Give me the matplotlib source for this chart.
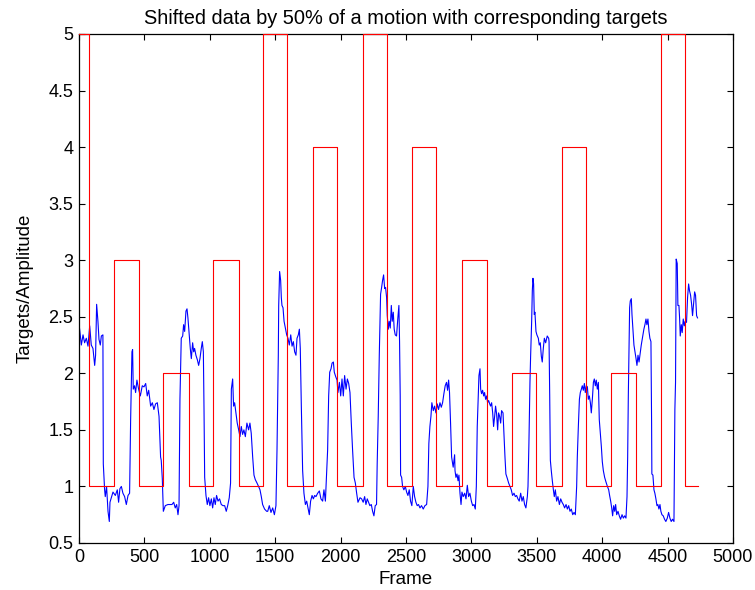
import matplotlib
matplotlib.use("Agg")
import matplotlib.pyplot as plt

# target levels (step signal, value holds until the next frame)
target_frames = [0, 80, 265, 461, 645, 841, 1027, 1226, 1407, 1593, 1786, 1975,
                 2169, 2352, 2546, 2732, 2928, 3117, 3308, 3496, 3690, 3876,
                 4070, 4256, 4452, 4635, 4730]
target_levels = [5, 1, 3, 1, 2, 1, 3, 1, 5, 1, 4, 1,
                 5, 1, 4, 1, 3, 1, 2, 1, 4, 1,
                 2, 1, 5, 1, 1]

# shifted motion amplitude
frames = [0, 5, 18, 31, 43, 56, 69, 82, 94, 107, 120, 127, 135, 145, 153, 163, 171, 183,
          186, 196, 201, 211, 222, 232, 237, 247, 260, 278, 293, 303, 313, 324, 336, 349,
          362, 375, 387, 395, 405, 410, 415, 425, 433, 443, 456, 469, 484, 497, 510, 522,
          533, 548, 561, 573, 586, 599, 612, 624, 629, 637, 645, 660, 680, 706,
          711, 724, 736, 747, 757, 765, 772, 782, 793, 800, 808, 818, 826, 833, 843, 851,
          859, 869, 877, 884, 894, 905, 915, 925, 935, 943, 951, 956, 961, 971, 981, 991,
          1001, 1012, 1022, 1032, 1042, 1052, 1063, 1075, 1088, 1101, 1114, 1126, 1137,
          1149, 1159, 1165, 1175, 1182, 1190, 1200, 1210, 1221, 1231, 1241, 1251, 1261,
          1272, 1284, 1297, 1307, 1317, 1328, 1338, 1348, 1361, 1373, 1384, 1394, 1404,
          1419, 1435,
          1443, 1455, 1468, 1481, 1494, 1506, 1514, 1524, 1527, 1534, 1542, 1547, 1552,
          1560, 1568, 1578, 1588, 1598, 1608, 1619, 1629, 1639, 1649, 1659, 1667, 1677,
          1685, 1692, 1700, 1710, 1720, 1731, 1741, 1751, 1761, 1771, 1782, 1792, 1802,
          1812, 1825, 1838, 1850, 1863, 1873, 1884, 1894, 1901, 1909, 1917, 1927, 1935,
          1945, 1952, 1963, 1973, 1980, 1991, 2001, 2011, 2021, 2031, 2042, 2052, 2062,
          2072, 2082, 2092, 2103, 2113, 2123, 2133, 2149,
          2161, 2173, 2184, 2194, 2204, 2214, 2224, 2235, 2245, 2255, 2265, 2275, 2280,
          2288, 2296, 2306, 2314, 2321, 2329, 2337, 2344, 2352, 2357, 2365, 2372, 2380,
          2388, 2395, 2403, 2410, 2418, 2428, 2438, 2446, 2451, 2456, 2459, 2467, 2474,
          2484, 2495, 2505, 2515, 2525, 2535, 2545, 2556, 2566, 2576, 2586, 2596, 2607,
          2619, 2632, 2645, 2658, 2668, 2675, 2683, 2691, 2698, 2709, 2719, 2729, 2739,
          2749, 2760, 2770, 2780, 2790, 2800, 2810, 2818, 2826, 2833, 2841, 2849, 2861,
          2872,
          2875, 2882, 2890, 2898, 2905, 2913, 2921, 2928, 2938, 2949, 2959, 2969, 2979,
          2989, 3000, 3010, 3020, 3030, 3038, 3045, 3053, 3058, 3066, 3071, 3078, 3086,
          3094, 3101, 3109, 3117, 3124, 3132, 3140, 3147, 3155, 3163, 3170, 3178, 3185,
          3193, 3201, 3208, 3216, 3224, 3231, 3242, 3249, 3257, 3264, 3275, 3285, 3295,
          3305, 3315, 3326, 3336, 3346, 3356, 3366, 3377, 3387, 3397, 3407, 3417, 3428,
          3433, 3440, 3448, 3453, 3461, 3466, 3471, 3476, 3481, 3486, 3494, 3501, 3512,
          3519, 3527, 3535, 3542, 3550, 3558, 3568, 3580, 3591,
          3594, 3599, 3604, 3611, 3619, 3627, 3634, 3642, 3652, 3662, 3673, 3683, 3693,
          3703, 3713, 3724, 3734, 3744, 3754, 3764, 3775, 3785, 3795, 3805, 3810, 3818,
          3826, 3833, 3841, 3848, 3856, 3864, 3871, 3879, 3887, 3894, 3902, 3910, 3917,
          3925, 3933, 3940, 3948, 3955, 3963, 3971, 3978, 3986, 3994, 4001, 4009, 4019,
          4029, 4040, 4050, 4057, 4065, 4073, 4080, 4088, 4096, 4103, 4111, 4121, 4131,
          4141, 4152, 4162, 4172, 4182, 4190, 4195, 4200, 4205, 4210, 4215, 4223, 4228,
          4236, 4243, 4251, 4259, 4266, 4274, 4282, 4289, 4299,
          4312, 4319, 4327, 4335, 4342, 4350, 4358, 4365, 4373, 4378, 4380, 4388, 4396,
          4403, 4411, 4419, 4426, 4434, 4442, 4449, 4457, 4467, 4477, 4487, 4498, 4508,
          4518, 4528, 4538, 4549, 4556, 4561, 4566, 4574, 4579, 4587, 4592, 4597, 4605,
          4612, 4620, 4628, 4635, 4645, 4653, 4661, 4668, 4676, 4684, 4691, 4699, 4707,
          4714, 4722, 4729]
amplitude = [2.43, 2.39, 2.25, 2.34, 2.27, 2.31, 2.24, 2.42, 2.25, 2.22, 2.07, 2.16, 2.61, 2.46, 2.30, 2.25, 2.33, 2.34,
             1.20, 0.97, 0.91, 1.00, 0.78, 0.69, 0.86, 0.90, 0.95, 0.92, 0.97, 0.86, 0.98, 1.00, 0.94, 0.91,
             0.84, 0.92, 0.94, 1.59, 2.19, 2.21, 1.86, 1.89, 1.83, 1.94, 1.86, 1.80, 1.89, 1.88, 1.91, 1.80,
             1.85, 1.71, 1.74, 1.68, 1.73, 1.74, 1.62, 1.26, 1.23, 1.07, 0.78, 0.83, 0.84, 0.84,
             0.84, 0.86, 0.81, 0.84, 0.75, 0.83, 1.77, 2.31, 2.33, 2.43, 2.37, 2.55, 2.57, 2.49, 2.34, 2.22,
             2.13, 2.27, 2.19, 2.22, 2.16, 2.12, 2.07, 2.13, 2.22, 2.28, 2.19, 1.68, 1.08, 0.92, 0.84, 0.90,
             0.83, 0.89, 0.81, 0.90, 0.84, 0.92, 0.87, 0.89, 0.84, 0.83, 0.83, 0.78, 0.83,
             0.90, 1.03, 1.86, 1.95, 1.71, 1.74, 1.65, 1.56, 1.50, 1.44, 1.53, 1.46, 1.50,
             1.44, 1.56, 1.50, 1.56, 1.47, 1.26, 1.10, 1.06, 1.03, 1.00, 0.97, 0.91, 0.84,
             0.80, 0.78,
             0.78, 0.83, 0.77, 0.81, 0.75, 0.83, 1.32, 2.16, 2.60, 2.90, 2.82, 2.67, 2.60,
             2.58, 2.46, 2.40, 2.34, 2.31, 2.25, 2.34, 2.24, 2.28, 2.19, 2.16, 2.31, 2.34,
             2.39, 2.22, 1.71, 1.14, 0.94, 0.84, 0.87, 0.81, 0.75, 0.87, 0.92, 0.89, 0.92,
             0.91, 0.94, 0.96, 0.89, 0.87, 0.97, 0.87, 1.14, 1.32, 1.80, 2.01, 2.04, 2.09,
             2.10, 2.01, 1.97, 1.94, 1.83, 1.92, 1.80, 1.95, 1.80, 1.98, 1.86, 1.95, 1.91,
             1.83, 1.56, 1.32, 1.08, 1.03, 0.94, 0.86, 0.90,
             0.89, 0.86, 0.91, 0.84, 0.89, 0.86, 0.83, 0.84, 0.78, 0.74, 0.83, 0.84, 1.20,
             1.62, 2.16, 2.70, 2.76, 2.82, 2.87, 2.75, 2.76, 2.67, 2.51, 2.39, 2.46, 2.40,
             2.60, 2.46, 2.54, 2.39, 2.34, 2.33, 2.49, 2.60, 2.28, 1.80, 1.10, 1.08, 1.00,
             0.97, 1.00, 0.95, 0.92, 0.97, 0.87, 0.83, 1.00, 0.91, 0.86, 0.83, 0.84, 0.81,
             0.83, 0.80, 0.83, 0.84, 1.00, 1.38, 1.53, 1.62, 1.74, 1.67, 1.71, 1.65, 1.73,
             1.68, 1.74, 1.70, 1.74, 1.82, 1.89, 1.92, 1.85, 1.94, 1.83, 1.56, 1.26, 1.17,
             1.28,
             1.14, 1.08, 1.11, 1.05, 1.10, 0.94, 0.84, 0.95, 0.91, 0.94, 0.89, 1.01, 0.91,
             0.94, 0.87, 0.83, 0.84, 0.80, 1.00, 1.53, 1.80, 1.98, 2.04, 1.86, 1.82, 1.85,
             1.80, 1.83, 1.77, 1.80, 1.74, 1.76, 1.73, 1.71, 1.74, 1.65, 1.53, 1.62, 1.71,
             1.64, 1.50, 1.65, 1.62, 1.56, 1.67, 1.65, 1.47, 1.26, 1.11, 1.07, 1.03, 1.00,
             0.97, 0.92, 0.94, 0.91, 0.92, 0.89, 0.87, 0.94, 0.87, 0.91, 0.84, 0.81, 0.91,
             1.00, 1.38, 1.92, 2.15, 2.46, 2.73, 2.84, 2.79, 2.52, 2.54, 2.37, 2.34, 2.31,
             2.25, 2.27, 2.15, 2.10, 2.22, 2.31, 2.27, 2.33, 2.31,
             2.28, 1.80, 1.23, 1.14, 1.05, 0.97, 0.91, 0.97, 0.87, 0.91, 0.84, 0.89, 0.86,
             0.84, 0.81, 0.84, 0.80, 0.83, 0.78, 0.80, 0.75, 0.77, 0.75, 1.00, 1.26, 1.53,
             1.77, 1.83, 1.86, 1.89, 1.85, 1.91, 1.83, 1.89, 1.88, 1.77, 1.80, 1.74, 1.65,
             1.77, 1.92, 1.95, 1.89, 1.94, 1.86, 1.92, 1.59, 1.47, 1.35, 1.22, 1.14, 1.08,
             1.04, 1.00, 0.97, 0.92, 0.87, 0.81, 0.74, 0.83, 0.78, 0.84, 0.75, 0.78, 0.74,
             0.71, 0.75, 0.72, 0.74, 0.72, 0.91, 1.26, 1.80, 2.16, 2.58, 2.64, 2.66, 2.52,
             2.37, 2.25, 2.19, 2.13, 2.07, 2.16, 2.10, 2.16, 2.25,
             2.34, 2.39, 2.43, 2.48, 2.43, 2.48, 2.37, 2.31, 2.28, 1.56, 1.11, 1.10, 0.97,
             0.94, 0.89, 0.83, 0.84, 0.80, 0.84, 0.78, 0.75, 0.74, 0.71, 0.69, 0.72, 0.77,
             0.72, 0.69, 0.71, 0.69, 1.68, 1.92, 3.01, 2.97, 2.60, 2.60, 2.49, 2.33, 2.43,
             2.36, 2.48, 2.42, 2.46, 2.45, 2.67, 2.79, 2.73, 2.69, 2.61, 2.51, 2.61, 2.72,
             2.69, 2.51, 2.49]

x_ticks = [0, 500, 1000, 1500, 2000, 2500, 3000, 3500, 4000, 4500, 5000]
y_ticks = [0.5, 1, 1.5, 2, 2.5, 3, 3.5, 4, 4.5, 5]
y_tick_labels = ["0.5", "1", "1.5", "2", "2.5", "3", "3.5", "4", "4.5", "5"]

plt.rcParams['font.family'] = ['Liberation Sans', 'DejaVu Sans']

fig = plt.figure(figsize=(7.55, 5.9), dpi=100)
ax = fig.add_axes([0.1046, 0.0797, 0.8662, 0.8627])

ax.plot(frames, amplitude, color=(0, 0, 1), lw=0.8)
ax.step(target_frames, target_levels, where='post', color=(1, 0, 0), lw=0.8,
        zorder=3, clip_on=False)

ax.set_xlim(0, 5000)
ax.set_ylim(0.5, 5)
ax.set_xticks(x_ticks)
ax.set_xticklabels([str(t) for t in x_ticks])
ax.set_yticks(y_ticks)
ax.set_yticklabels(y_tick_labels)
ax.tick_params(direction='in', top=True, right=True, length=4, width=0.8,
               labelsize=13, pad=4)
for s in ax.spines.values():
    s.set_linewidth(0.9)

ax.set_title("Shifted data by 50% of a motion with corresponding targets", fontsize=14.4, pad=7)
ax.set_xlabel("Frame", fontsize=13.5, labelpad=4)
ax.set_ylabel("Targets/Amplitude", fontsize=13.5, labelpad=11)

fig.savefig("out.png", dpi=100)
